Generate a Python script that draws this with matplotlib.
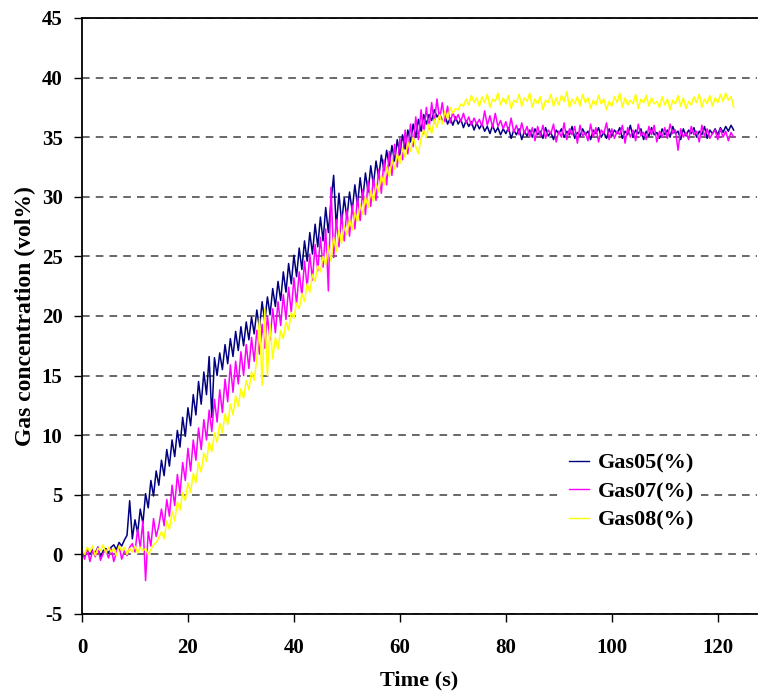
import numpy as np
import matplotlib
matplotlib.use('Agg')
import matplotlib.pyplot as plt

# gas concentration readings (vol%), sampled every 0.5 s from t = 0 to 123 s
gas05 = [
    0.3, -0.1, 0.5, 0.0, 0.4, 0.1, 0.6, -0.2, 0.3, 0.5,
    0.1, 0.6, 0.8, 0.4, 1.0, 0.7, 1.2, 1.6, 4.5, 1.3,
    2.9, 1.8, 3.8, 2.6, 5.1, 3.9, 6.2, 4.9, 7.0, 5.8,
    7.9, 6.6, 8.8, 7.4, 9.6, 8.2, 10.4, 9.0, 11.5, 9.9,
    12.3, 10.8, 13.4, 11.7, 14.5, 12.6, 15.3, 13.4, 16.6, 11.5,
    16.5, 15.0, 16.9, 15.5, 17.6, 16.0, 18.1, 16.6, 18.7, 17.1,
    19.1, 17.5, 19.5, 18.0, 19.9, 18.5, 20.5, 19.0, 21.2, 19.5,
    21.6, 20.1, 22.3, 20.8, 22.9, 21.3, 23.7, 22.0, 24.4, 22.7,
    25.1, 23.3, 25.7, 23.9, 26.3, 24.6, 27.0, 25.2, 27.7, 25.8,
    28.3, 26.3, 29.1, 27.0, 29.6, 31.8, 27.4, 30.3, 27.8, 29.9,
    28.2, 30.4, 28.8, 31.0, 29.3, 31.6, 29.8, 32.0, 30.4, 32.6,
    31.0, 33.0, 31.6, 33.5, 32.2, 33.9, 32.6, 34.3, 33.0, 34.8,
    33.5, 35.2, 34.0, 35.6, 34.6, 36.1, 35.0, 36.5, 35.5, 36.9,
    36.1, 36.9, 36.4, 37.3, 36.7, 37.0, 36.3, 36.9, 36.1, 36.6,
    36.0, 36.7, 36.1, 36.5, 35.8, 36.4, 35.9, 36.3, 35.6, 36.2,
    35.7, 36.1, 35.5, 35.9, 35.3, 36.0, 35.4, 35.8, 35.2, 35.7,
    35.3, 35.8, 34.9, 35.6, 35.2, 35.7, 34.8, 35.5, 35.1, 35.6,
    35.0, 35.7, 35.2, 35.5, 34.9, 35.8, 35.1, 35.4, 34.8, 35.6,
    35.3, 35.7, 35.0, 35.5, 35.2, 35.9, 34.9, 35.4, 35.1, 35.7,
    35.2, 35.5, 34.8, 35.6, 35.3, 35.8, 35.0, 35.4, 34.9, 35.7,
    35.1, 35.6, 35.3, 35.8, 34.9, 35.5, 35.2, 36.0, 35.0, 35.6,
    35.3, 35.7, 34.8, 35.5, 35.1, 35.8, 35.2, 35.4, 34.9, 35.7,
    35.2, 35.6, 35.0, 35.9, 35.3, 35.5, 34.8, 35.7, 35.1, 35.6,
    35.3, 35.8, 35.0, 35.5, 35.2, 35.9, 34.9, 35.6, 35.3, 35.7,
    35.2, 35.8, 35.4, 35.9, 35.5, 36.0, 35.6,
]

gas07 = [
    0.2, -0.4, 0.5, -0.6, 0.3, -0.2, 0.6, -0.5, 0.1, 0.4,
    -0.3, 0.5, -0.6, 0.2, 0.7, -0.4, 0.3, -0.1, 0.6, 0.9,
    0.2, 2.1, 0.6, 2.8, -2.2, 1.9, 0.7, 3.0, 1.5, 2.4,
    3.8, 2.4, 4.6, 3.2, 5.8, 4.1, 6.7, 5.1, 7.7, 6.2,
    8.9, 7.0, 9.6, 7.9, 10.6, 8.8, 11.3, 9.6, 12.1, 10.3,
    13.0, 11.1, 13.8, 11.9, 14.7, 12.8, 15.9, 13.6, 16.2, 14.3,
    17.0, 15.0, 17.6, 15.6, 18.2, 16.2, 18.8, 16.8, 19.3, 17.3,
    20.0, 18.0, 20.6, 18.6, 21.2, 19.2, 21.8, 19.7, 22.4, 20.3,
    23.2, 21.0, 23.7, 21.7, 24.6, 22.4, 25.2, 23.0, 26.0, 23.8,
    26.6, 24.1, 27.3, 22.1, 30.8, 24.9, 28.1, 25.8, 28.6, 26.3,
    28.9, 26.7, 29.3, 27.3, 30.0, 28.0, 30.6, 28.5, 31.3, 29.2,
    31.6, 29.7, 32.3, 30.3, 33.1, 31.0, 33.8, 31.8, 34.4, 32.5,
    34.9, 33.1, 35.6, 33.6, 36.1, 34.2, 36.7, 34.8, 37.3, 35.3,
    37.5, 35.7, 37.9, 36.2, 38.2, 36.5, 37.9, 36.3, 37.6, 36.2,
    37.1, 36.4, 36.9, 36.3, 37.0, 36.2, 36.7, 36.0, 36.6, 36.1,
    36.5, 35.9, 37.2, 36.0, 36.8, 35.8, 37.0, 35.9, 36.4, 35.7,
    36.3, 35.5, 36.6, 35.4, 36.0, 35.2, 36.2, 35.3, 35.9, 35.0,
    35.8, 34.7, 35.9, 35.1, 36.0, 34.9, 35.6, 35.3, 36.1, 34.6,
    35.5, 35.0, 36.2, 34.8, 35.7, 35.2, 35.9, 34.5, 36.0, 35.1,
    35.4, 34.7, 36.1, 35.0, 35.8, 34.6, 35.6, 35.3, 36.2, 34.8,
    35.7, 34.9, 35.5, 35.2, 36.0, 34.5, 35.8, 35.0, 35.6, 34.7,
    36.1, 35.1, 35.4, 34.8, 35.9, 35.2, 36.0, 34.6, 35.5, 35.0,
    35.8, 34.9, 36.1, 35.3, 35.6, 33.9, 35.7, 35.0, 35.4, 34.8,
    35.9, 35.2, 35.5, 34.6, 36.0, 35.1, 35.7, 34.9, 35.3, 35.6,
    34.8, 35.7, 35.0, 35.5, 34.7, 35.4, 35.0,
]

gas08 = [
    0.4, 0.0, 0.6, 0.2, 0.7, -0.1, 0.5, 0.3, 0.8, 0.1,
    0.6, 0.2, 0.5, -0.1, 0.7, 0.3, 0.6, 0.0, 0.5, 0.2,
    0.7, 0.1, 0.6, 0.3, 0.5, 0.0, 0.4, 0.8, 1.0, 1.4,
    1.9, 1.3, 2.8, 2.1, 3.6, 2.8, 4.4, 3.7, 5.2, 4.5,
    6.0, 5.2, 6.8, 6.0, 7.7, 6.9, 8.5, 7.8, 9.4, 8.6,
    10.2, 9.4, 11.0, 10.2, 11.8, 10.9, 12.6, 11.7, 13.3, 12.4,
    13.9, 13.1, 14.6, 13.8, 15.3, 14.6, 16.4, 19.8, 14.2, 20.6,
    15.0, 19.3, 16.4, 18.2, 17.2, 18.8, 18.1, 19.5, 18.8, 20.3,
    19.8, 21.1, 20.6, 21.9, 21.2, 22.7, 22.0, 23.5, 22.9, 24.2,
    23.7, 25.0, 24.3, 25.9, 24.6, 26.6, 25.4, 27.2, 26.1, 27.6,
    26.8, 28.1, 27.2, 28.7, 27.9, 29.4, 28.5, 30.0, 29.1, 30.5,
    29.6, 31.1, 30.4, 31.8, 31.0, 32.5, 31.7, 33.1, 32.3, 33.6,
    32.8, 34.1, 33.3, 34.6, 33.8, 35.0, 34.2, 33.6, 34.9, 35.6,
    35.0, 36.1, 35.3, 36.5, 35.8, 36.9, 36.1, 37.2, 36.5, 37.5,
    37.0, 37.4, 37.3, 37.8, 37.6, 38.2, 37.7, 38.5, 37.9, 38.3,
    37.6, 38.4, 37.9, 38.6, 37.5, 38.2, 38.0, 38.7, 37.7, 38.3,
    37.8, 38.5, 37.4, 38.1, 37.9, 38.6, 37.6, 38.3, 38.0, 38.7,
    37.5, 38.2, 37.8, 38.4, 37.3, 38.1, 37.9, 38.6, 37.6, 38.3,
    37.7, 38.5, 38.0, 38.8, 37.5, 38.2, 37.8, 38.4, 37.6, 38.6,
    37.9, 38.3, 37.4, 38.1, 37.7, 38.5, 37.8, 38.2, 37.3, 38.0,
    37.6, 38.4, 37.9, 38.7, 37.5, 38.3, 37.7, 38.1, 37.8, 38.6,
    37.4, 38.2, 37.9, 38.5, 37.6, 38.3, 37.8, 38.0, 37.5, 38.4,
    37.7, 38.2, 37.3, 38.1, 37.8, 38.5, 37.6, 38.3, 37.4, 38.0,
    37.7, 38.4, 37.9, 38.6, 37.5, 38.2, 37.8, 38.5, 37.6, 38.3,
    37.9, 38.6, 38.0, 38.7, 38.1, 38.4, 37.5,
]

labels = ['Gas05(%)', 'Gas07(%)', 'Gas08(%)']
colors = ['#000080', '#FF00FF', '#FFFF00']
time = np.arange(len(gas05)) * 0.5

plt.rcParams['font.family'] = ['Liberation Serif', 'DejaVu Serif']
plt.rcParams['font.weight'] = 'bold'
plt.rcParams['axes.unicode_minus'] = False

fig = plt.figure(figsize=(7.62, 7.0), dpi=100)
ax = fig.add_axes([0.1076, 0.1229, 0.8858, 0.8514])

for y, lab, c in zip([gas05, gas07, gas08], labels, colors):
    ax.plot(time, y, color=c, lw=1.1, label=lab)

ax.set_xlim(0, 127.4)
ax.set_ylim(-5, 45)
ax.set_xticks(range(0, 121, 20))
ax.set_yticks(range(-5, 46, 5))
ax.yaxis.grid(True, color='#404040', lw=1.1, linestyle=(0, (5, 4)))
ax.set_axisbelow(True)

ax.spines['right'].set_visible(False)
for s in ['left', 'bottom', 'top']:
    ax.spines[s].set_linewidth(1.3)
ax.tick_params(direction='out', length=6, width=1, labelsize=15, pad=8)
ax.tick_params(axis='x', pad=11)
for t in ax.get_xticklabels() + ax.get_yticklabels():
    t.set_fontweight('bold')

ax.set_xlabel('Time (s)', fontsize=16, fontweight='bold', labelpad=9)
ax.set_ylabel('Gas concentration (vol%)', fontsize=17, fontweight='bold', labelpad=4)

leg = ax.legend(loc='center left', bbox_to_anchor=(0.695, 0.205), frameon=True,
                prop={'size': 16, 'weight': 'bold'}, handlelength=0.9,
                handletextpad=0.4, labelspacing=0.35, borderpad=0.3)
leg.get_frame().set_facecolor('white')
leg.get_frame().set_edgecolor('none')
leg.get_frame().set_alpha(1)
for line in leg.get_lines():
    line.set_linewidth(1.0)

plt.savefig('out.png', dpi=100)
